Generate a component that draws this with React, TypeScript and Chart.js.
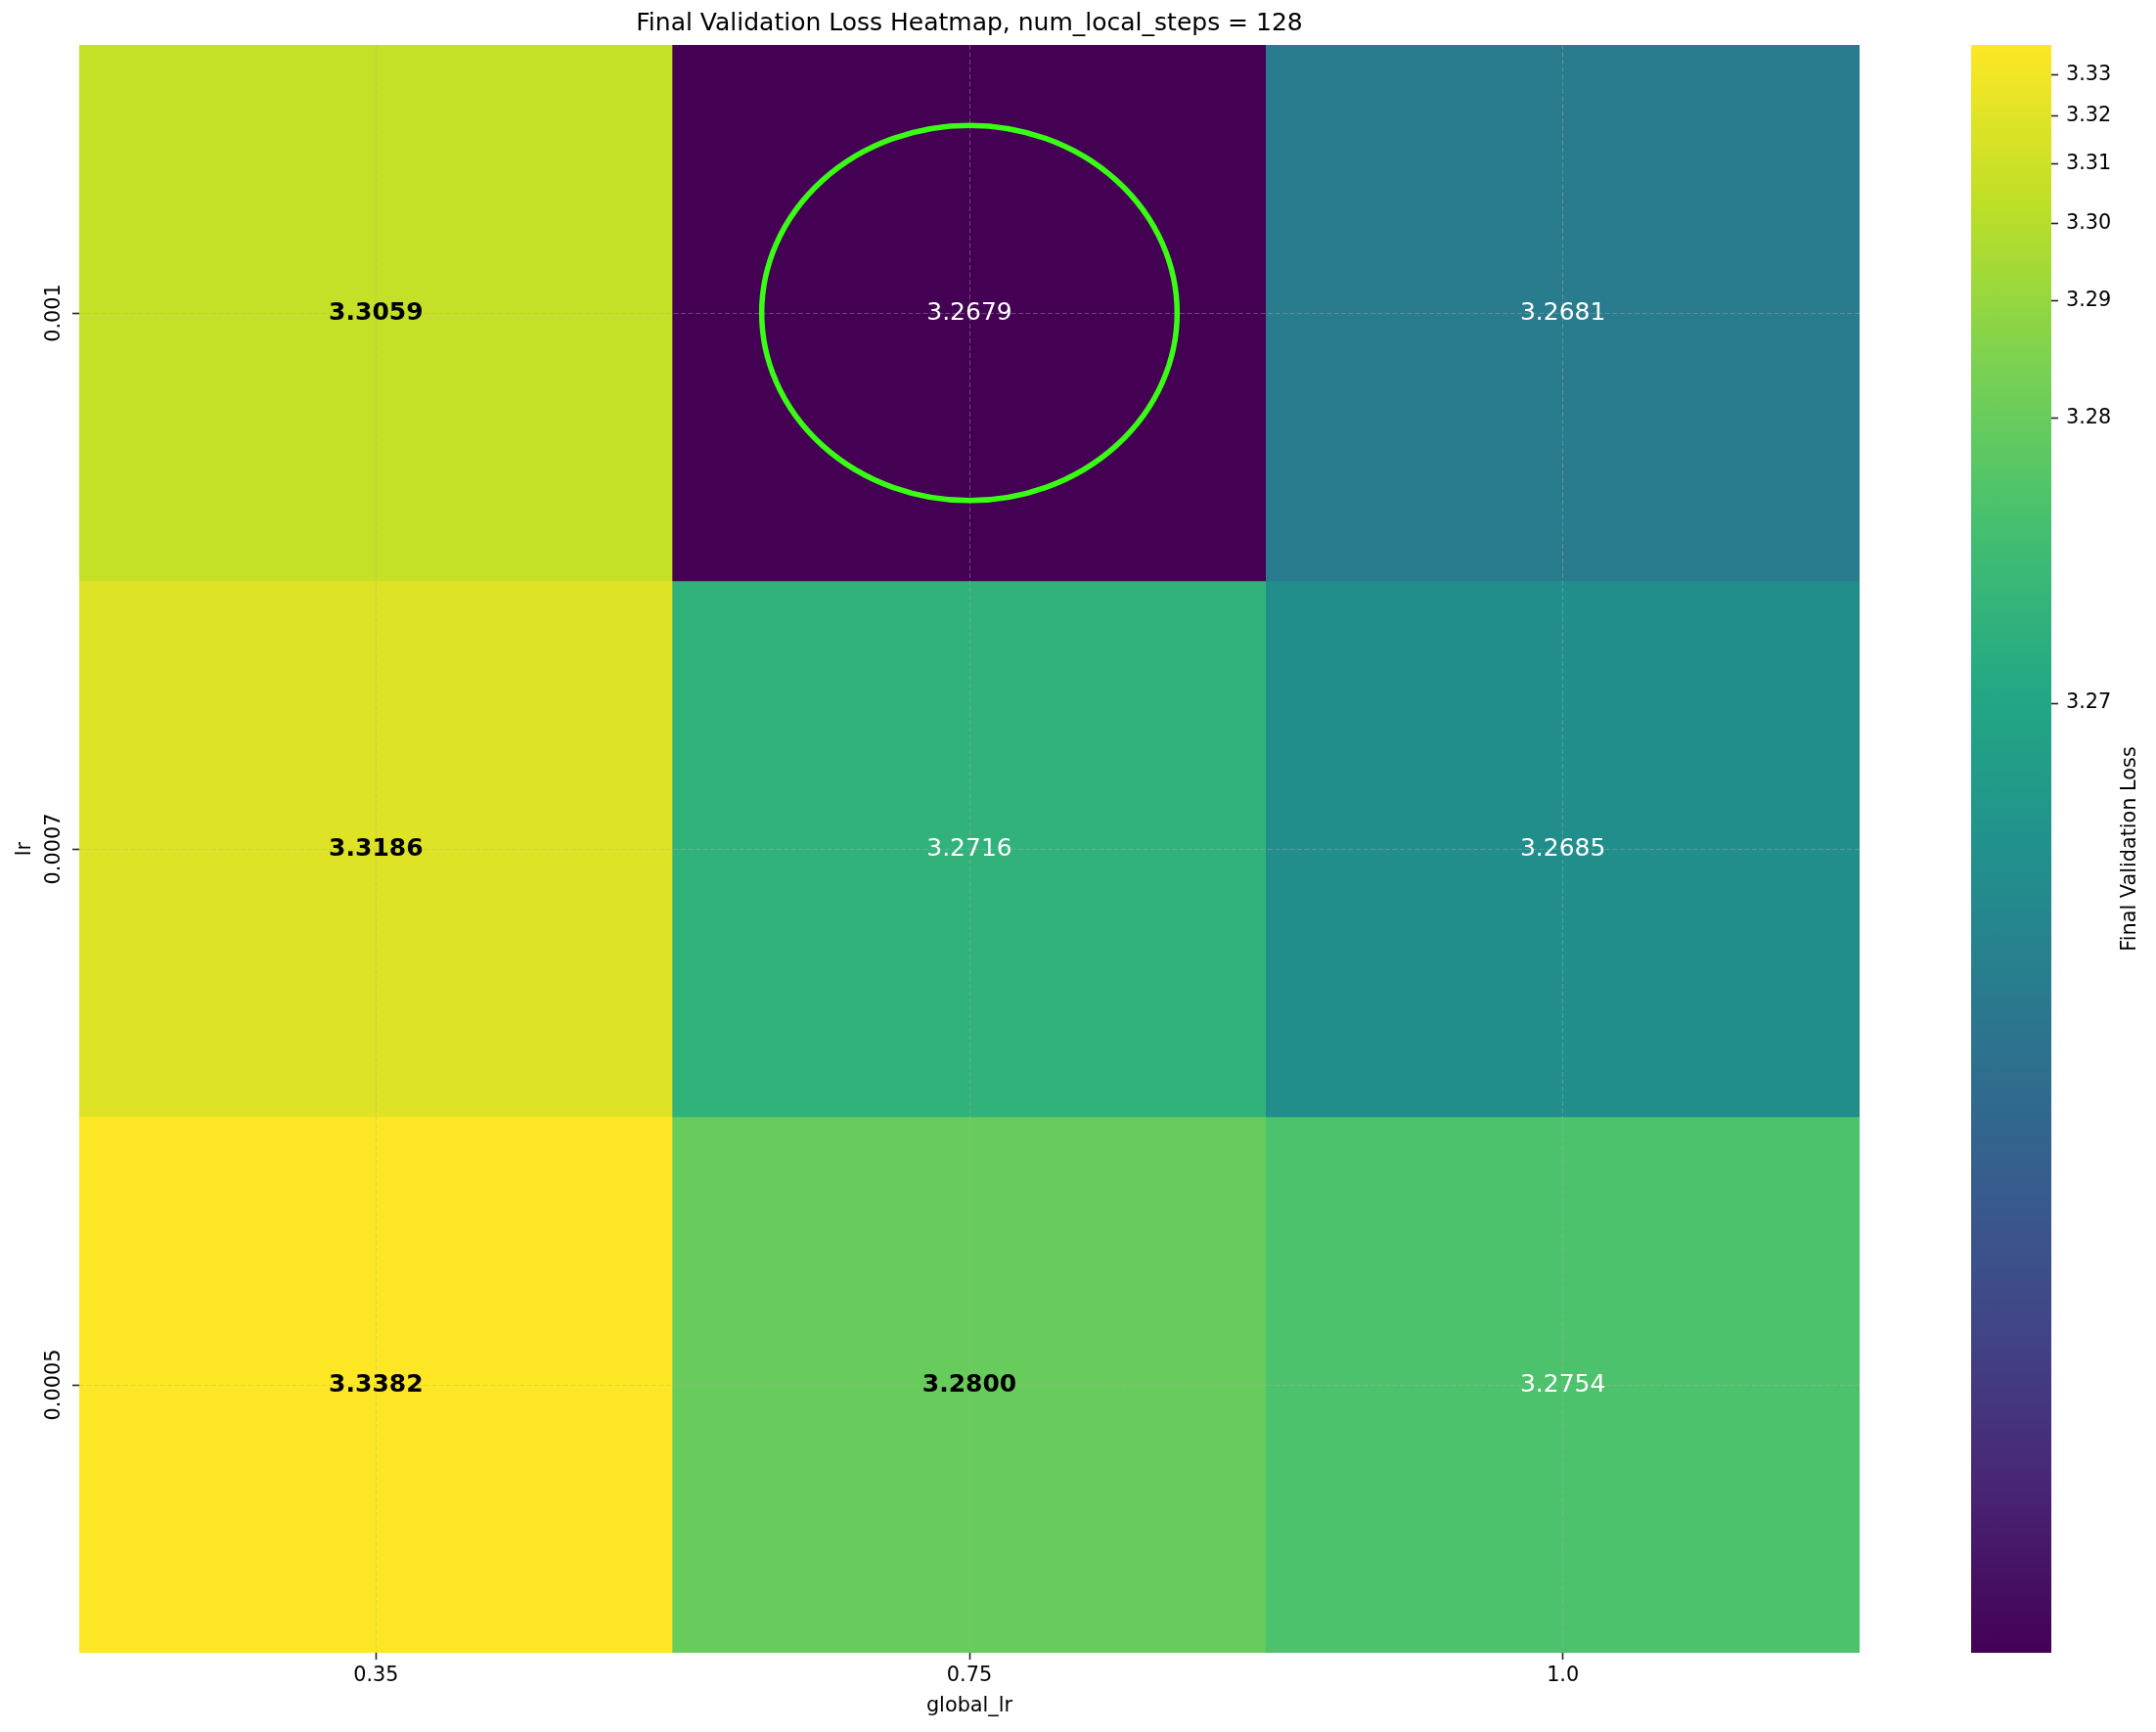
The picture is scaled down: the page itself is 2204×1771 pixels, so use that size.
import React, { useEffect, useRef } from 'react';
import { Chart, registerables } from 'chart.js';

Chart.register(...registerables);

// ---------------- data ----------------
const TITLE = 'Final Validation Loss Heatmap, num_local_steps = 128';
const X_TITLE = 'global_lr';
const Y_TITLE = 'lr';
const CB_TITLE = 'Final Validation Loss';
const X_LABELS = ['0.35', '0.75', '1.0']; // global_lr
const Y_LABELS = ['0.001', '0.0007', '0.0005']; // lr
const ROW_LR_0001 = [3.3059, 3.2679, 3.2681];
const ROW_LR_00007 = [3.3186, 3.2716, 3.2685];
const ROW_LR_00005 = [3.3382, 3.28, 3.2754];
const ROWS = [ROW_LR_0001, ROW_LR_00007, ROW_LR_00005];
const CB_TICKS = [3.27, 3.28, 3.29, 3.3, 3.31, 3.32, 3.33];
const CB_TICK_LABELS = ['3.27', '3.28', '3.29', '3.30', '3.31', '3.32', '3.33'];
const GAMMA = 0.15; // power norm of the colour scale

// ---------------- style ----------------
const FONT = 'DejaVu Sans';
const FS_TICK = 20.8;
const FS_TITLE = 25;
const FS_ANNOT = 25;
const GRID_COLOR = 'rgba(176,176,176,0.4)';
const GRID_DASH = [5, 2.5];
const TICK_COLOR = '#222222';
const ELLIPSE_COLOR = '#39ff14';

const VIRIDIS: [number, string][] = [
  [0, '#440154'], [0.1, '#482475'], [0.2, '#414487'], [0.25, '#3b528b'],
  [0.3, '#355f8d'], [0.4, '#2a788e'], [0.5, '#21918c'], [0.6, '#22a884'],
  [0.7, '#44bf70'], [0.75, '#5ec962'], [0.8, '#7ad151'], [0.9, '#bddf26'],
  [1, '#fde725'],
];

function hexToRgb(h: string) {
  return [parseInt(h.slice(1, 3), 16), parseInt(h.slice(3, 5), 16), parseInt(h.slice(5, 7), 16)];
}

function viridis(t: number) {
  const x = Math.min(1, Math.max(0, t));
  for (let i = 1; i < VIRIDIS.length; i++) {
    if (x <= VIRIDIS[i][0]) {
      const [t0, c0] = VIRIDIS[i - 1];
      const [t1, c1] = VIRIDIS[i];
      const f = (x - t0) / (t1 - t0);
      const a = hexToRgb(c0);
      const b = hexToRgb(c1);
      const c = a.map((v, k) => Math.round(v + (b[k] - v) * f));
      return `rgb(${c[0]},${c[1]},${c[2]})`;
    }
  }
  return VIRIDIS[VIRIDIS.length - 1][1];
}

const ALL = ROWS.flat();
const VMIN = Math.min(...ALL);
const VMAX = Math.max(...ALL);
const norm = (v: number) => Math.pow(Math.max(0, (v - VMIN) / (VMAX - VMIN)), GAMMA);
const SORTED = [...ALL].sort((a, b) => a - b);
const MEDIAN = SORTED[Math.floor(SORTED.length / 2)];

function bestCell() {
  let br = 0, bc = 0;
  ROWS.forEach((row, r) => row.forEach((v, c) => { if (v < ROWS[br][bc]) { br = r; bc = c; } }));
  return { r: br, c: bc };
}

export default function App() {
  const mainRef = useRef<HTMLCanvasElement | null>(null);
  const cbRef = useRef<HTMLCanvasElement | null>(null);

  useEffect(() => {
    if (!mainRef.current || !cbRef.current) return;

    const overlayPlugin = {
      id: 'heatOverlay',
      afterDraw(chart: any) {
        const ctx = chart.ctx;
        const xs = chart.scales.x;
        const ys = chart.scales.y;
        // y tick labels (rotated)
        ctx.save();
        ctx.fillStyle = '#000';
        ctx.font = `${FS_TICK}px "${FONT}"`;
        ctx.textAlign = 'center';
        ctx.textBaseline = 'middle';
        Y_LABELS.forEach((lab, i) => {
          ctx.save();
          ctx.translate(56.1, ys.getPixelForValue(i));
          ctx.rotate(-Math.PI / 2);
          ctx.fillText(lab, 0, 0);
          ctx.restore();
        });
        ctx.restore();
        // annotations
        ROWS.forEach((row, r) => {
          row.forEach((v, c) => {
            const dark = v > MEDIAN;
            ctx.save();
            ctx.fillStyle = dark ? '#000' : '#fff';
            ctx.font = `${dark ? 'bold ' : ''}${FS_ANNOT}px "${FONT}"`;
            ctx.textAlign = 'center';
            ctx.textBaseline = 'middle';
            ctx.fillText(v.toFixed(4), xs.getPixelForValue(c), ys.getPixelForValue(r) + 0.5);
            ctx.restore();
          });
        });
        // highlight ellipse around the best cell
        const b = bestCell();
        const cx = xs.getPixelForValue(b.c);
        const cy = ys.getPixelForValue(b.r);
        const rx = Math.abs(xs.getPixelForValue(b.c + 0.35) - cx);
        const ry = Math.abs(ys.getPixelForValue(b.r + 0.35) - cy);
        ctx.save();
        ctx.strokeStyle = ELLIPSE_COLOR;
        ctx.lineWidth = 5.5;
        ctx.beginPath();
        ctx.ellipse(cx, cy, rx, ry, 0, 0, Math.PI * 2);
        ctx.stroke();
        ctx.restore();
      },
    };

    const main = new Chart(mainRef.current, {
      type: 'bar',
      data: {
        labels: X_LABELS,
        datasets: ROWS.map((row, r) => ({
          label: 'lr = ' + Y_LABELS[r],
          data: row.map(() => [r - 0.5, r + 0.5]),
          backgroundColor: row.map((v) => viridis(norm(v))),
          borderWidth: 0,
          barPercentage: 1,
          categoryPercentage: 1,
          grouped: false,
        })),
      } as any,
      options: {
        responsive: false,
        animation: false,
        events: [],
        layout: { padding: { left: 0, right: 303, top: 0, bottom: 0 } },
        plugins: {
          legend: { display: false },
          tooltip: { enabled: false },
          title: {
            display: true,
            text: TITLE,
            fullSize: false,
            color: '#000',
            font: { family: FONT, size: FS_TITLE, weight: 'normal' },
            padding: { top: 9.8, bottom: 6.2 },
          },
        },
        scales: {
          x: {
            type: 'category',
            position: 'bottom',
            offset: true,
            z: 1,
            afterFit: (s: any) => { s.height = 81; },
            grid: {
              display: true,
              offset: false,
              z: 1,
              drawOnChartArea: true,
              drawTicks: true,
              color: GRID_COLOR,
              lineWidth: 1,
              tickLength: 7,
              tickColor: TICK_COLOR,
              tickWidth: 1.6,
              tickBorderDash: [],
            },
            border: { display: false, dash: GRID_DASH },
            ticks: { color: '#000', padding: 4, font: { family: FONT, size: FS_TICK }, maxRotation: 0, minRotation: 0 },
            title: {
              display: true,
              text: X_TITLE,
              color: '#000',
              font: { family: FONT, size: FS_TICK },
              padding: { top: 0, bottom: 14 },
            },
          },
          y: {
            type: 'linear',
            position: 'left',
            min: -0.5,
            max: 2.5,
            reverse: true,
            z: 1,
            afterBuildTicks: (s: any) => { s.ticks = Y_LABELS.map((_, i) => ({ value: i })); },
            afterFit: (s: any) => { s.width = 81; },
            grid: {
              display: true,
              z: 1,
              drawOnChartArea: true,
              drawTicks: true,
              color: GRID_COLOR,
              lineWidth: 1,
              tickLength: 7,
              tickColor: TICK_COLOR,
              tickWidth: 1.6,
              tickBorderDash: [],
            },
            border: { display: false, dash: GRID_DASH },
            ticks: { display: false },
            title: {
              display: true,
              text: Y_TITLE,
              color: '#000',
              font: { family: FONT, size: FS_TICK },
              padding: { top: 13.6, bottom: 0 },
            },
          },
        },
      } as any,
      plugins: [overlayPlugin],
    });

    const cbLabelPlugin = {
      id: 'cbLabel',
      afterDraw(chart: any) {
        const ctx = chart.ctx;
        const a = chart.chartArea;
        ctx.save();
        ctx.fillStyle = '#000';
        ctx.font = `${FS_TICK}px "${FONT}"`;
        ctx.textAlign = 'center';
        ctx.textBaseline = 'middle';
        ctx.translate(187.8, (a.top + a.bottom) / 2);
        ctx.rotate(-Math.PI / 2);
        ctx.fillText(CB_TITLE, 0, 0);
        ctx.restore();
      },
    };

    const cb = new Chart(cbRef.current, {
      type: 'bar',
      data: {
        labels: [''],
        datasets: [
          {
            label: 'colorbar',
            data: [[0, 1]],
            backgroundColor: (c: any) => {
              const chart = c.chart;
              const area = chart.chartArea;
              if (!area) return viridis(0.5);
              const g = chart.ctx.createLinearGradient(0, area.bottom, 0, area.top);
              VIRIDIS.forEach(([t, col]) => g.addColorStop(t, col));
              return g;
            },
            borderWidth: 0,
            barPercentage: 1,
            categoryPercentage: 1,
          },
        ],
      } as any,
      options: {
        responsive: false,
        animation: false,
        events: [],
        layout: { padding: { left: 25, right: 0, top: 46, bottom: 81 } },
        plugins: { legend: { display: false }, tooltip: { enabled: false }, title: { display: false } },
        scales: {
          x: { type: 'category', display: false, offset: true },
          y: {
            type: 'linear',
            position: 'right',
            min: 0,
            max: 1,
            afterBuildTicks: (s: any) => { s.ticks = CB_TICKS.map((v) => ({ value: norm(v) })); },
            afterFit: (s: any) => { s.width = 107; },
            grid: {
              display: true,
              drawOnChartArea: false,
              drawTicks: true,
              tickLength: 7,
              tickColor: TICK_COLOR,
              tickWidth: 1.6,
            },
            border: { display: false },
            ticks: {
              color: '#000',
              padding: 8,
              font: { family: FONT, size: FS_TICK },
              callback: (_v: any, i: number) => CB_TICK_LABELS[i],
            },
          },
        },
      } as any,
      plugins: [cbLabelPlugin],
    });

    return () => {
      main.destroy();
      cb.destroy();
    };
  }, []);

  return (
    <div style={{ position: 'absolute', left: 0, top: 0, width: 2204, height: 1771, background: '#fff', overflow: 'hidden' }}>
      <canvas ref={mainRef} width={2204} height={1771} style={{ position: 'absolute', left: 0, top: 0 }} />
      <canvas ref={cbRef} width={214} height={1771} style={{ position: 'absolute', left: 1990, top: 0 }} />
    </div>
  );
}
